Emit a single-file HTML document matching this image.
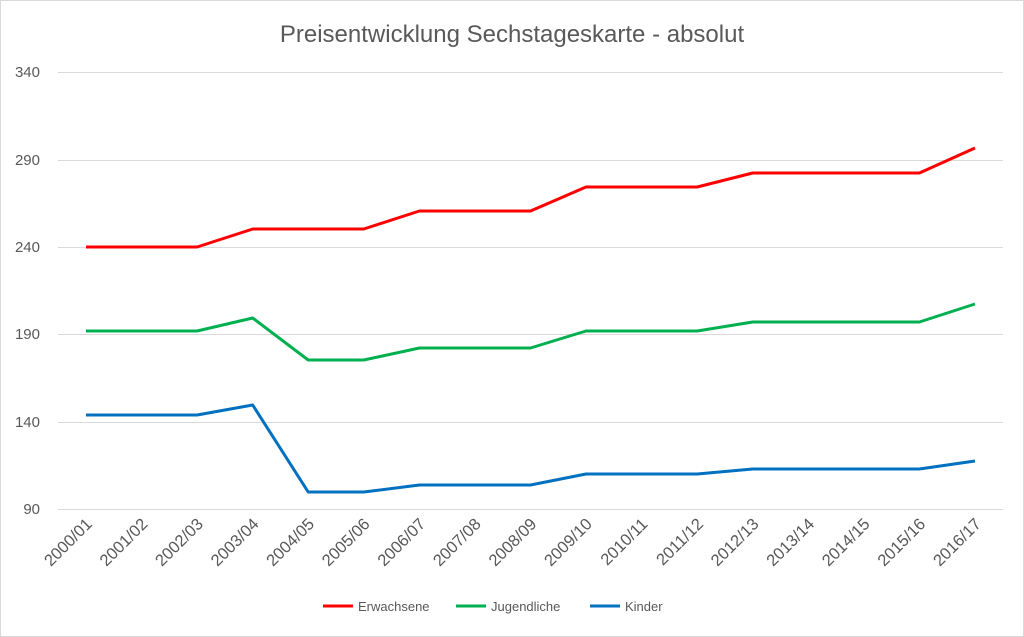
<!DOCTYPE html>
<html><head><meta charset="utf-8"><style>body{margin:0;background:#fff}svg{display:block}</style></head><body>
<svg width="1024" height="637" xmlns="http://www.w3.org/2000/svg" font-family="Liberation Sans, sans-serif">
<rect x="0.5" y="0.5" width="1023" height="636" fill="#fff" stroke="#d9d9d9"/>
<text x="512" y="42" text-anchor="middle" font-size="24" fill="#595959">Preisentwicklung Sechstageskarte - absolut</text>
<g stroke="#d9d9d9" stroke-width="1">
<line x1="58" x2="1003" y1="72.5" y2="72.5"/><line x1="58" x2="1003" y1="160.5" y2="160.5"/>
<line x1="58" x2="1003" y1="247.5" y2="247.5"/><line x1="58" x2="1003" y1="334.5" y2="334.5"/>
<line x1="58" x2="1003" y1="422.5" y2="422.5"/><line x1="58" x2="1003" y1="509.5" y2="509.5"/>
</g>
<g font-size="15" fill="#595959" text-anchor="end">
<text x="40" y="77">340</text><text x="40" y="165">290</text><text x="40" y="252">240</text>
<text x="40" y="339">190</text><text x="40" y="427">140</text><text x="40" y="514">90</text>
</g>
<polyline fill="none" stroke="#ff0000" stroke-width="3" stroke-linejoin="round" points="86,247 141.6,247 197.1,247 252.7,229 308.2,229 363.8,229 419.4,211 474.9,211 530.5,211 586,187 641.6,187 697.2,187 752.7,173 808.3,173 863.8,173 919.4,173 975,148"/>
<polyline fill="none" stroke="#00b050" stroke-width="3" stroke-linejoin="round" points="86,331 141.6,331 197.1,331 252.7,318 308.2,360 363.8,360 419.4,348 474.9,348 530.5,348 586,331 641.6,331 697.2,331 752.7,322 808.3,322 863.8,322 919.4,322 975,304"/>
<polyline fill="none" stroke="#0070c0" stroke-width="3" stroke-linejoin="round" points="86,415 141.6,415 197.1,415 252.7,405 308.2,492 363.8,492 419.4,485 474.9,485 530.5,485 586,474 641.6,474 697.2,474 752.7,469 808.3,469 863.8,469 919.4,469 975,461"/>
<g font-size="13" fill="#595959">
<line x1="323" x2="353" y1="606" y2="606" stroke="#ff0000" stroke-width="3"/><text x="358" y="611">Erwachsene</text>
<line x1="456" x2="486" y1="606" y2="606" stroke="#00b050" stroke-width="3"/><text x="491" y="611">Jugendliche</text>
<line x1="590" x2="620" y1="606" y2="606" stroke="#0070c0" stroke-width="3"/><text x="625" y="611">Kinder</text>
</g>
<g font-size="16.5" fill="#595959" text-anchor="end">
<text transform="translate(93,525) rotate(-45)">2000/01</text>
<text transform="translate(148.6,525) rotate(-45)">2001/02</text>
<text transform="translate(204.1,525) rotate(-45)">2002/03</text>
<text transform="translate(259.7,525) rotate(-45)">2003/04</text>
<text transform="translate(315.2,525) rotate(-45)">2004/05</text>
<text transform="translate(370.8,525) rotate(-45)">2005/06</text>
<text transform="translate(426.4,525) rotate(-45)">2006/07</text>
<text transform="translate(481.9,525) rotate(-45)">2007/08</text>
<text transform="translate(537.5,525) rotate(-45)">2008/09</text>
<text transform="translate(593,525) rotate(-45)">2009/10</text>
<text transform="translate(648.6,525) rotate(-45)">2010/11</text>
<text transform="translate(704.2,525) rotate(-45)">2011/12</text>
<text transform="translate(759.7,525) rotate(-45)">2012/13</text>
<text transform="translate(815.3,525) rotate(-45)">2013/14</text>
<text transform="translate(870.8,525) rotate(-45)">2014/15</text>
<text transform="translate(926.4,525) rotate(-45)">2015/16</text>
<text transform="translate(982,525) rotate(-45)">2016/17</text>
</g>
</svg>
</body></html>
